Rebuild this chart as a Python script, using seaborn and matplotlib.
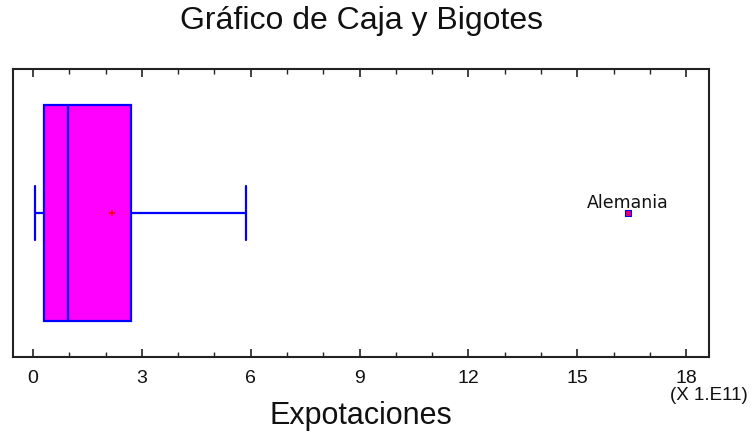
import matplotlib
matplotlib.use("Agg")
import matplotlib.pyplot as plt
import seaborn as sns
import numpy as np
import pandas as pd
from matplotlib.ticker import MultipleLocator

# Data (units of 1e11)
variable = "Expotaciones"
whisker_low = 0.055
q1 = 0.30
median = 0.96
q3 = 2.70
whisker_high = 5.87
mean_value = 2.17
outlier_values = [16.4]
outlier_labels = ["Alemania"]
x_ticks = [0, 3, 6, 9, 12, 15, 18]

sns.set_style("white")
plt.rcParams['font.family'] = ['Liberation Sans', 'DejaVu Sans']

fig = plt.figure(figsize=(7.54, 4.38), dpi=100)
ax = fig.add_axes([13/754, 1-357/438, (709-13)/754, (357-69)/438])

stats = [dict(whislo=whisker_low, q1=q1, med=median, q3=q3, whishi=whisker_high,
              mean=mean_value, fliers=[], label="")]
ax.bxp(stats, positions=[0], widths=0.75, orientation='horizontal',
       patch_artist=True, showfliers=False, showmeans=False, capwidths=[0.19],
       boxprops=dict(facecolor='#FF00FF', edgecolor='#0000FF', linewidth=1.6),
       medianprops=dict(color='#0000FF', linewidth=1.6),
       whiskerprops=dict(color='#0000FF', linewidth=1.6),
       capprops=dict(color='#0000FF', linewidth=1.6))

pts = pd.DataFrame({"x": [mean_value], "y": [0.0]})
sns.scatterplot(data=pts, x="x", y="y", ax=ax, marker='+', color='#FF0000',
                s=18, linewidth=1.2, zorder=5)
outs = pd.DataFrame({"x": outlier_values, "y": [0.0]*len(outlier_values)})
sns.scatterplot(data=outs, x="x", y="y", ax=ax, marker='s', color='#E0006A',
                edgecolor='#0000FF', s=16, linewidth=0.8, zorder=5)
for xv, lab in zip(outlier_values, outlier_labels):
    ax.annotate(lab, (xv, 0), xytext=(0, 0.5), textcoords='offset points',
                ha='center', va='bottom', fontsize=12.5, family=['DejaVu Sans'],
                color='#111111')

ax.set_xlim(-0.55, 18.63)
ax.set_ylim(0.5, -0.5)
ax.set_yticks([])
ax.set_ylabel("")
ax.set_xticks(x_ticks)
ax.set_xticklabels([str(t) for t in x_ticks], fontsize=14, color='#111111')
ax.xaxis.set_minor_locator(MultipleLocator(1))
ax.tick_params(axis='x', which='major', direction='in', length=6, width=1.2,
               top=True, bottom=True, pad=9.5, color='#222222')
ax.tick_params(axis='x', which='minor', direction='in', length=3.5, width=1.0,
               top=True, bottom=True, color='#222222')
for sp in ax.spines.values():
    sp.set_visible(True)
    sp.set_linewidth(1.5)
    sp.set_color('#222222')

ax.set_xlabel(variable, fontsize=22, labelpad=0, color='#111111')
ax.xaxis.label.set_va('center')
ax.xaxis.set_label_coords(0.5, -(416-357)/288)
fig.text(0.48, 1-21/438, "Gráfico de Caja y Bigotes", ha='center', va='center',
         fontsize=23, color='#111111')
fig.text(748/754, 1-387/438, "(X 1.E11)", ha='right', va='top', fontsize=13.5,
         color='#111111')

fig.savefig("out.png", dpi=100)
